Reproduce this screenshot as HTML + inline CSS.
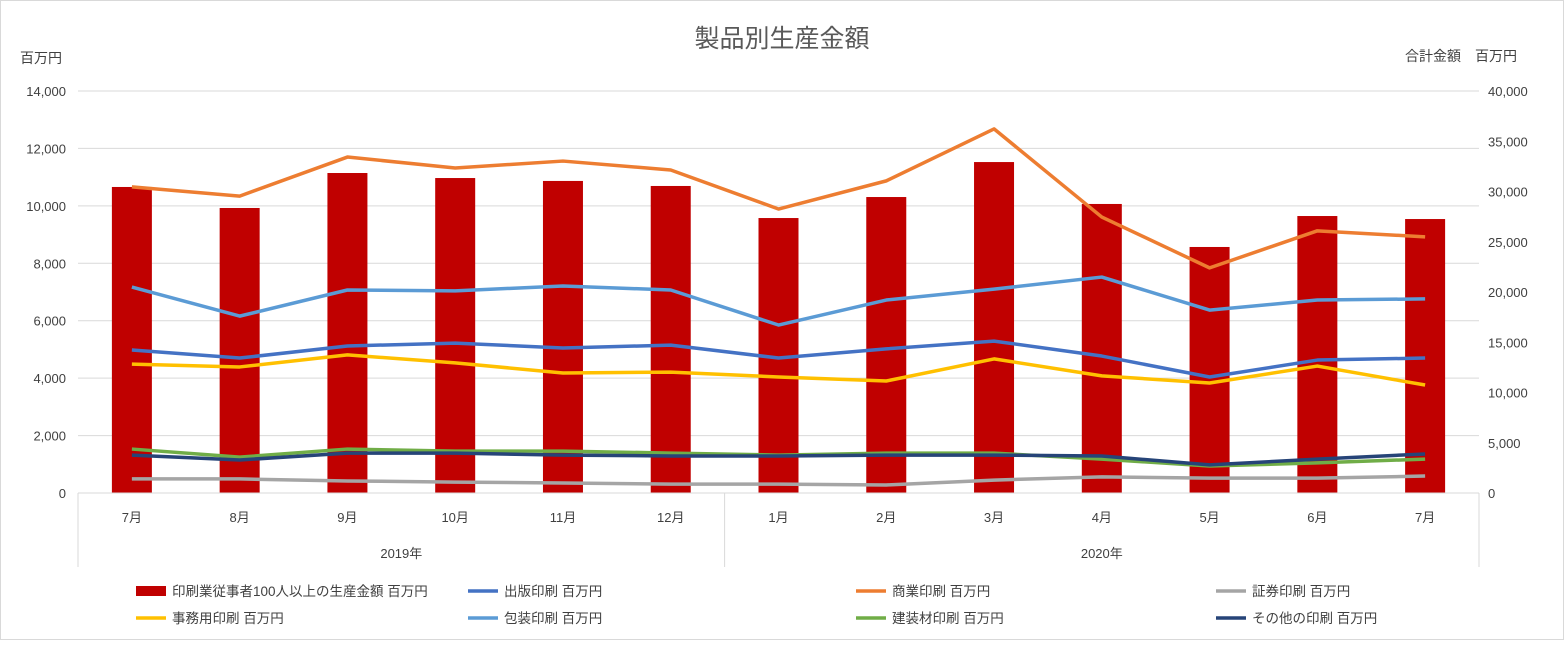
<!DOCTYPE html>
<html><head><meta charset="utf-8"><style>
body{margin:0;background:#fff;font-family:"Liberation Sans","Noto Sans CJK JP",sans-serif;}
svg text{font-family:"Liberation Sans","Noto Sans CJK JP",sans-serif;}
</style></head><body>
<svg id="c" width="1565" height="641" xmlns="http://www.w3.org/2000/svg">
<rect x="0.5" y="0.5" width="1563" height="639" fill="#fff" stroke="#d9d9d9"/>
<text x="782" y="47" text-anchor="middle" font-size="25" fill="#595959">製品別生産金額</text>
<text x="20" y="63" font-size="14" fill="#404040">百万円</text>
<text x="1405" y="61" font-size="14" fill="#404040">合計金額　百万円</text>
<g id="grid"></g><g id="bars"></g><g id="lines"></g><g id="axes"></g><g id="legend"></g>
</svg>
<script>
const categories=["7月","8月","9月","10月","11月","12月","1月","2月","3月","4月","5月","6月","7月"];
const years=["2019年","2020年"];
const leftTicks=[0,2000,4000,6000,8000,10000,12000,14000];
const rightTicks=[0,5000,10000,15000,20000,25000,30000,35000,40000];
const totalValues=[30450,28360,31840,31340,31050,30550,27360,29450,32930,28760,24480,27560,27260];
const commercial=[10660,10340,11700,11320,11560,11250,9890,10870,12680,9610,7840,9130,8920];
const packaging=[7170,6160,7070,7040,7210,7070,5850,6720,7100,7520,6370,6720,6760];
const publishing=[4980,4700,5120,5220,5050,5150,4700,5020,5290,4770,4040,4630,4700];
const office=[4490,4390,4810,4530,4180,4210,4040,3900,4670,4080,3830,4420,3760];
const building=[1530,1250,1530,1460,1460,1390,1320,1390,1390,1180,940,1050,1180];
const other=[1320,1150,1390,1390,1320,1290,1290,1320,1320,1290,980,1180,1360];
const securities=[490,490,420,380,350,310,310,280,450,560,520,520,590];
const NS="http://www.w3.org/2000/svg";
const L=78,R=1479,T=91,B=493;
const step=(R-L)/categories.length;
const x=i=>L+step*(i+0.5);
const yL=v=>B-(v/14000)*(B-T);
const yR=v=>B-(v/40000)*(B-T);
function mk(tag,attrs,parent,txt){const e=document.createElementNS(NS,tag);for(const k in attrs)e.setAttribute(k,attrs[k]);if(txt!==undefined)e.textContent=txt;document.getElementById(parent).appendChild(e);return e;}
leftTicks.forEach(v=>{
 const g=mk('line',{x1:L,x2:R,y1:yL(v),y2:yL(v),stroke:'#d9d9d9'},'grid');
 
 const t=mk('text',{x:66,y:yL(v)+5,'text-anchor':'end','font-size':13,fill:'#404040'},'axes',v.toLocaleString('en-US'));
 
});
rightTicks.forEach(v=>{
 const t=mk('text',{x:1488,y:yR(v)+5,'font-size':13,fill:'#404040'},'axes',v.toLocaleString('en-US'));
 
});
totalValues.forEach((v,i)=>{
 const r=mk('rect',{x:x(i)-20,y:yR(v),width:40,height:B-yR(v),fill:'#c00000'},'bars');
 
});
const series=[[commercial,'#ed7d31','line-commercial'],[packaging,'#5b9bd5','line-packaging'],[publishing,'#4472c4','line-publishing'],[office,'#ffc000','line-office'],[building,'#70ad47','line-building'],[other,'#264478','line-other'],[securities,'#a5a5a5','line-securities']];
series.forEach(([d,c,n])=>{
 const p=mk('polyline',{points:d.map((v,i)=>x(i)+','+yL(v)).join(' '),fill:'none',stroke:c,'stroke-width':3.5,'stroke-linejoin':'round'},'lines');
 
});
// axes
let a=mk('line',{x1:L,x2:R,y1:B,y2:B,stroke:'#d9d9d9'},'axes');
[L,L+step*6,R].forEach(xx=>{const l=mk('line',{x1:xx,x2:xx,y1:B,y2:567,stroke:'#d9d9d9'},'axes');});
categories.forEach((c,i)=>{const t=mk('text',{x:x(i),y:522,'text-anchor':'middle','font-size':13,fill:'#404040'},'axes',c);});
years.forEach((y,i)=>{const t=mk('text',{x:i==0?L+step*3:L+step*9.5,y:558,'text-anchor':'middle','font-size':13,fill:'#404040'},'axes',y);});
const legendItems=[["印刷業従事者100人以上の生産金額 百万円",'#c00000',136,591,true],["出版印刷 百万円",'#4472c4',468,591],["商業印刷 百万円",'#ed7d31',856,591],["証券印刷 百万円",'#a5a5a5',1216,591],["事務用印刷 百万円",'#ffc000',136,618],["包装印刷 百万円",'#5b9bd5',468,618],["建装材印刷 百万円",'#70ad47',856,618],["その他の印刷 百万円",'#264478',1216,618]];
legendItems.forEach(([t,c,lx,ly,bar])=>{
 const s=bar?mk('rect',{x:lx,y:ly-5,width:30,height:10,fill:c},'legend'):mk('line',{x1:lx,x2:lx+30,y1:ly,y2:ly,stroke:c,'stroke-width':3.5},'legend');
 
 const tx=mk('text',{x:lx+36,y:ly+5,'font-size':13.5,fill:'#404040'},'legend',t);
 
});
</script>
</body></html>
